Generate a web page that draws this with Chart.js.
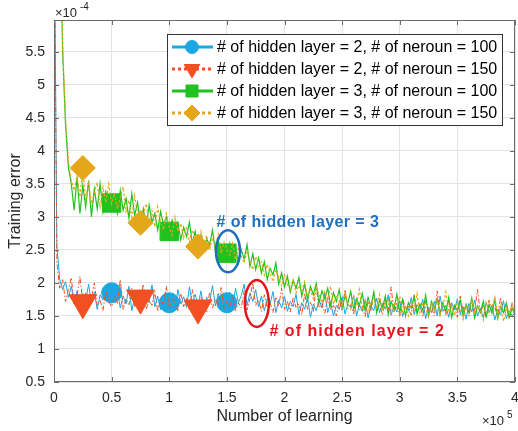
<!DOCTYPE html>
<html>
<head>
<meta charset="utf-8">
<script src="https://cdn.jsdelivr.net/npm/chart.js@4"></script>
<style>
html, body { margin: 0; padding: 0; background: #fff; }
#wrap { width: 518px; height: 431px; }
</style>
</head>
<body>
<div id="wrap"><canvas id="errChart" width="518" height="431"></canvas></div>
<script>
// x axis is in units of 1e5 learnings, y axis in units of 1e-4
const xStep = 0.025;
const xTicks = [0, 0.5, 1, 1.5, 2, 2.5, 3, 3.5, 4];
const yTicks = [0.5, 1, 1.5, 2, 2.5, 3, 3.5, 4, 4.5, 5, 5.5];

const seriesNames = [
  "# of hidden layer = 2, # of neroun = 100",
  "# of hidden layer = 2, # of neroun = 150",
  "# of hidden layer = 3, # of neroun = 100",
  "# of hidden layer = 3, # of neroun = 150",
];

const h2n100 = [
  8.0, 2.55, 2.05, 1.9, 2.02, 1.78, 1.95, 1.7, 1.88, 1.66,
  1.84, 1.72, 1.98, 1.69, 1.86, 1.6, 1.82, 1.74, 1.93, 1.7,
  1.85, 1.76, 1.9, 1.62, 1.8, 1.68, 1.95, 1.58, 1.78, 1.72,
  1.88, 1.65, 1.83, 1.7, 1.97, 1.64, 1.8, 1.59, 1.77, 1.85,
  1.7, 1.82, 1.6, 1.9, 1.68, 1.79, 1.63, 1.94, 1.7, 1.83,
  1.66, 1.88, 1.62, 1.78, 1.71, 1.96, 1.65, 1.84, 1.6, 1.79,
  1.7, 1.86, 1.63, 1.92, 1.7, 1.81, 1.98, 1.66, 1.85, 1.72,
  1.9, 1.64, 1.8, 1.58, 1.76, 1.68, 1.87, 1.55, 1.74, 1.62,
  1.8, 1.57, 1.72, 1.64, 1.83, 1.52, 1.7, 1.6, 1.78, 1.48,
  1.68, 1.58, 1.75, 1.62, 1.84, 1.55, 1.7, 1.5, 1.66, 1.6,
  1.79, 1.53, 1.68, 1.62, 1.81, 1.5, 1.67, 1.57, 1.74, 1.47,
  1.65, 1.58, 1.77, 1.55, 1.69, 1.6, 1.82, 1.51, 1.66, 1.56,
  1.73, 1.49, 1.64, 1.58, 1.78, 1.52, 1.67, 1.6, 1.75, 1.46,
  1.63, 1.55, 1.72, 1.5, 1.8, 1.57, 1.66, 1.48, 1.7, 1.59,
  1.76, 1.52, 1.64, 1.45, 1.69, 1.56, 1.74, 1.5, 1.62, 1.47,
  1.71, 1.55, 1.66, 1.44, 1.6, 1.52, 1.73, 1.46, 1.58, 1.5,
  1.55,
];

const h2n150 = [
  8.0, 2.3, 1.92, 2.05, 1.72, 1.9, 2.08, 1.68, 1.8, 2.1,
  1.7, 1.85, 1.62, 1.78, 2.0, 1.66, 1.74, 1.58, 1.88, 1.72,
  1.64, 1.8, 1.69, 2.05, 1.6, 1.76, 1.67, 1.92, 1.63, 1.82,
  1.77, 1.98, 1.6, 1.73, 1.66, 1.87, 1.57, 1.75, 1.68, 1.95,
  1.62, 1.76, 1.7, 1.58, 1.84, 1.64, 1.77, 1.6, 1.9, 1.67,
  1.62, 1.78, 1.69, 1.55, 1.86, 1.62, 1.75, 1.66, 1.93, 1.6,
  1.73, 1.64, 1.8, 1.58, 1.7, 1.62, 1.88, 1.59, 1.76, 2.0,
  1.66, 1.74, 1.57, 1.82, 1.63, 1.7, 1.55, 1.79, 1.65, 1.92,
  1.6, 1.72, 1.56, 1.77, 1.63, 1.68, 1.52, 1.84, 1.6, 1.71,
  1.57, 1.95, 1.62, 1.69, 1.54, 1.78, 1.6, 1.66, 1.5, 1.74,
  1.58, 1.9, 1.61, 1.67, 1.53, 1.76, 1.59, 1.64, 1.49, 1.72,
  1.57, 1.86, 1.6, 1.68, 1.52, 1.74, 1.58, 1.94, 1.55, 1.7,
  1.5, 1.77, 1.6, 1.65, 1.51, 1.82, 1.57, 1.68, 1.49, 1.73,
  1.58, 1.64, 1.5, 1.88, 1.56, 1.69, 1.52, 1.75, 1.6, 1.66,
  1.48, 1.8, 1.55, 1.67, 1.5, 1.72, 1.58, 1.9, 1.53, 1.66,
  1.47, 1.74, 1.56, 1.63, 1.5, 1.78, 1.55, 1.64, 1.46, 1.7,
  1.52,
];

const h3n100 = [
  14, 11, 8, 5.5, 4.4, 3.75, 3.5, 3.1, 3.6, 3.05,
  3.48, 3.15, 3.55, 3.0, 3.42, 3.12, 3.5, 3.08, 3.38, 3.18,
  3.21, 3.3, 3.05, 3.4, 3.1, 3.28, 2.98, 3.35, 3.02, 3.22,
  2.9, 3.12, 2.85, 3.18, 2.92, 3.05, 2.8, 3.08, 2.88, 3.0,
  2.78, 2.95, 2.72, 2.9, 2.65, 2.84, 2.7, 2.92, 2.6, 2.78,
  2.55, 2.72, 2.5, 2.66, 2.58, 2.8, 2.48, 2.62, 2.4, 2.56,
  2.45, 2.6, 2.38, 2.55, 2.3, 2.5, 2.36, 2.58, 2.25, 2.44,
  2.2, 2.38, 2.15, 2.32, 2.05, 2.22, 2.12, 2.3, 1.98, 2.15,
  1.94, 2.1, 1.86, 2.04, 1.92, 2.08, 1.8, 1.98, 1.74, 1.95,
  1.82, 1.99, 1.7, 1.88, 1.76, 1.92, 1.66, 1.85, 1.72, 1.9,
  1.62, 1.8, 1.7, 1.87, 1.6, 1.76, 1.66, 1.84, 1.58, 1.78,
  1.64, 1.86, 1.55, 1.74, 1.62, 1.8, 1.52, 1.72, 1.6, 1.83,
  1.56, 1.75, 1.5, 1.7, 1.62, 1.79, 1.53, 1.68, 1.58, 1.81,
  1.5, 1.72, 1.6, 1.76, 1.52, 1.7, 1.57, 1.78, 1.48, 1.66,
  1.58, 1.74, 1.5, 1.68, 1.55, 1.77, 1.47, 1.65, 1.56, 1.72,
  1.49, 1.67, 1.54, 1.75, 1.46, 1.64, 1.55, 1.7, 1.48, 1.62,
  1.52,
];

const h3n150 = [
  14, 11.5, 8.3, 5.6, 4.5, 3.85, 3.55, 3.4, 3.62, 3.3,
  3.74, 3.25, 3.5, 3.2, 3.38, 3.52, 3.15, 3.45, 3.22, 3.5,
  3.2, 3.36, 3.12, 3.3, 3.45, 3.08, 3.25, 3.0, 3.32, 3.05,
  2.91, 3.05, 3.2, 2.9, 3.1, 2.85, 3.15, 2.92, 2.8, 3.05,
  2.85, 2.72, 3.0, 2.78, 2.9, 2.68, 2.85, 2.62, 2.8, 2.7,
  2.55, 2.78, 2.6, 2.72, 2.5, 2.68, 2.56, 2.74, 2.45, 2.62,
  2.5, 2.42, 2.6, 2.35, 2.52, 2.4, 2.3, 2.48, 2.34, 2.2,
  2.4, 2.25, 2.32, 2.12, 2.28, 2.15, 2.02, 2.2, 2.08, 1.95,
  2.12, 1.98, 1.9, 2.06, 1.85, 1.96, 1.88, 2.02, 1.8, 1.9,
  1.76, 1.94, 1.82, 1.7, 1.88, 1.75, 1.95, 1.68, 1.82, 1.74,
  1.66, 1.85, 1.7, 1.6, 1.8, 1.68, 1.9, 1.62, 1.75, 1.55,
  1.7, 1.78, 1.6, 1.82, 1.58, 1.68, 1.74, 1.54, 1.7, 1.62,
  1.8, 1.57, 1.66, 1.5, 1.72, 1.6, 1.84, 1.55, 1.68, 1.62,
  1.48, 1.7, 1.58, 1.76, 1.52, 1.64, 1.86, 1.56, 1.66, 1.5,
  1.72, 1.6, 1.45, 1.68, 1.62, 1.74, 1.53, 1.66, 1.58, 1.44,
  1.7, 1.55, 1.62, 1.78, 1.5, 1.64, 1.42, 1.6, 1.55, 1.68,
  1.5,
];

// x positions (1e5) where each curve carries a big marker
const markX2 = [0.5, 1.0, 1.5];
const markX1 = [0.25, 0.75, 1.25];

const FONT = "'Liberation Sans', Arial, sans-serif";
const AXIS = "#262626";

function toPoints(arr) {
  return arr.map((v, i) => ({ x: i * xStep, y: v }));
}

function markerRadius(xs, r) {
  return (c) => {
    const p = c.raw;
    if (!p) return 0;
    return xs.some((m) => Math.abs(m - p.x) < 1e-6) ? r : 0;
  };
}

const styles = [
  { color: "#1aa7e2", dash: [], style: "circle", r: 10, rot: 0, lr: 6.5, marks: markX2, width: 1 },
  { color: "#f25022", dash: [5, 2, 1.5, 2], style: "triangle", r: 16, rot: 180, lr: 9, marks: markX1, width: 1 },
  { color: "#1fc21f", dash: [], style: "rect", r: 13, rot: 0, lr: 8.5, marks: markX2, width: 1.2 },
  { color: "#e5a61a", dash: [2.5, 2], style: "rectRot", r: 12.5, rot: 0, lr: 8, marks: markX1, width: 1.2 },
];

const allSeries = [h2n100, h2n150, h3n100, h3n150];

const datasets = allSeries.map((s, i) => ({
  label: seriesNames[i],
  data: toPoints(s),
  borderColor: styles[i].color,
  backgroundColor: styles[i].color,
  borderWidth: styles[i].width,
  borderDash: styles[i].dash,
  pointStyle: styles[i].style,
  pointRotation: styles[i].rot,
  pointRadius: markerRadius(styles[i].marks, styles[i].r),
  pointBorderWidth: 1,
  pointBackgroundColor: styles[i].color,
  pointBorderColor: styles[i].color,
  tension: 0,
  clip: 0,
  order: 3 - i, // later series on top, like the original plot
}));

// box, inward tick marks, axis titles and exponent labels
const axesDecor = {
  id: "axesDecor",
  afterDatasetsDraw(chart) {
    const { ctx, chartArea: a, scales } = chart;
    ctx.save();
    ctx.strokeStyle = "#6b6b6b";
    ctx.lineWidth = 1;
    ctx.strokeRect(Math.round(a.left) + 0.5, Math.round(a.top) + 0.5,
      Math.round(a.right - a.left) - 1, Math.round(a.bottom - a.top) - 1);
    ctx.beginPath();
    xTicks.forEach((t) => {
      const px = Math.round(scales.x.getPixelForValue(t)) + 0.5;
      ctx.moveTo(px, a.bottom); ctx.lineTo(px, a.bottom - 5);
      ctx.moveTo(px, a.top); ctx.lineTo(px, a.top + 5);
    });
    yTicks.forEach((t) => {
      const py = Math.round(scales.y.getPixelForValue(t)) + 0.5;
      ctx.moveTo(a.left, py); ctx.lineTo(a.left + 5, py);
      ctx.moveTo(a.right, py); ctx.lineTo(a.right - 5, py);
    });
    ctx.stroke();

    ctx.fillStyle = AXIS;
    ctx.font = "16px " + FONT;
    ctx.textAlign = "center";
    ctx.textBaseline = "middle";
    ctx.fillText("Number of learning", (a.left + a.right) / 2, 417);
    ctx.save();
    ctx.translate(16, (a.top + a.bottom) / 2);
    ctx.rotate(-Math.PI / 2);
    ctx.fillText("Training error", 0, 0);
    ctx.restore();

    ctx.textAlign = "left";
    ctx.font = "13px " + FONT;
    ctx.fillText("\u00d710", 55, 13);
    ctx.font = "10px " + FONT;
    ctx.fillText("-4", 80, 7);
    ctx.font = "13px " + FONT;
    ctx.fillText("\u00d710", 482, 421);
    ctx.font = "10px " + FONT;
    ctx.fillText("5", 507, 415);
    ctx.restore();
  },
};

// the two hand-drawn style annotations
const notes = {
  id: "notes",
  afterDatasetsDraw(chart) {
    const { ctx, scales: { x, y } } = chart;
    const rings = [
      { x: 1.51, y: 2.48, rx: 12, ry: 21, color: "#1e6fbe" },
      { x: 1.76, y: 1.69, rx: 12, ry: 23.5, color: "#e8141c" },
    ];
    const texts = [
      { x: 1.41, y: 2.92, text: "# of hidden layer = 3", color: "#1e6fbe", spacing: "0.4px" },
      { x: 1.87, y: 1.26, text: "# of hidden layer = 2", color: "#e8141c", spacing: "1px" },
    ];
    ctx.save();
    ctx.lineWidth = 2.5;
    rings.forEach((r) => {
      ctx.strokeStyle = r.color;
      ctx.beginPath();
      ctx.ellipse(x.getPixelForValue(r.x), y.getPixelForValue(r.y), r.rx, r.ry, 0, 0, Math.PI * 2);
      ctx.stroke();
    });
    ctx.font = "bold 16px " + FONT;
    ctx.textAlign = "left";
    ctx.textBaseline = "middle";
    texts.forEach((t) => {
      ctx.fillStyle = t.color;
      ctx.letterSpacing = t.spacing;
      ctx.fillText(t.text, x.getPixelForValue(t.x), y.getPixelForValue(t.y));
    });
    ctx.letterSpacing = "0px";
    ctx.restore();
  },
};

// MATLAB-like legend box in the upper right of the axes
const boxLegend = {
  id: "boxLegend",
  afterDraw(chart) {
    const { ctx } = chart;
    const left = 167, top = 34, w = 335, rowH = 22;
    ctx.save();
    ctx.fillStyle = "#fff";
    ctx.fillRect(left, top, w, 91);
    ctx.strokeStyle = "#333";
    ctx.lineWidth = 1;
    ctx.strokeRect(left + 0.5, top + 0.5, w, 91);
    seriesNames.forEach((name, i) => {
      const st = styles[i];
      const cy = top + 13 + i * rowH;
      ctx.strokeStyle = st.color;
      ctx.fillStyle = st.color;
      ctx.lineWidth = 3;
      ctx.setLineDash(st.dash.length ? [3, 3] : []);
      ctx.beginPath();
      ctx.moveTo(172, cy);
      ctx.lineTo(213, cy);
      ctx.stroke();
      ctx.setLineDash([]);
      ctx.lineWidth = 1;
      Chart.helpers.drawPoint(ctx, { pointStyle: st.style, radius: st.lr, rotation: st.rot, borderWidth: 1 }, 192, cy);
      ctx.fillStyle = "#000";
      ctx.font = "16px " + FONT;
      ctx.textBaseline = "middle";
      ctx.fillText(name, 217, cy + 1);
    });
    ctx.restore();
  },
};

Chart.defaults.font.family = FONT;

const plainNum = (v) => String(v);

new Chart(document.getElementById("errChart"), {
  type: "line",
  data: { datasets: datasets },
  options: {
    responsive: false,
    animation: false,
    events: [],
    layout: { padding: { top: 20, right: 3, left: 0, bottom: 0 } },
    plugins: { legend: { display: false }, tooltip: { enabled: false } },
    scales: {
      x: {
        type: "linear",
        min: 0,
        max: 4,
        afterFit(s) { s.height = 49; s.paddingLeft = 0; s.paddingRight = 0; },
        afterBuildTicks(s) { s.ticks = xTicks.map((v) => ({ value: v })); },
        grid: { color: "#e3e3e3", drawTicks: false },
        border: { display: false },
        ticks: { color: AXIS, font: { size: 14 }, padding: 8, maxRotation: 0, callback: plainNum },
      },
      y: {
        type: "linear",
        min: 0.5,
        max: 5.98,
        afterFit(s) { s.width = 54; s.paddingTop = 0; s.paddingBottom = 0; },
        afterBuildTicks(s) { s.ticks = yTicks.map((v) => ({ value: v })); },
        grid: { color: "#e3e3e3", drawTicks: false },
        border: { display: false },
        ticks: { color: AXIS, font: { size: 14 }, padding: 9, callback: plainNum },
      },
    },
  },
  plugins: [axesDecor, notes, boxLegend],
});
</script>
</body>
</html>
